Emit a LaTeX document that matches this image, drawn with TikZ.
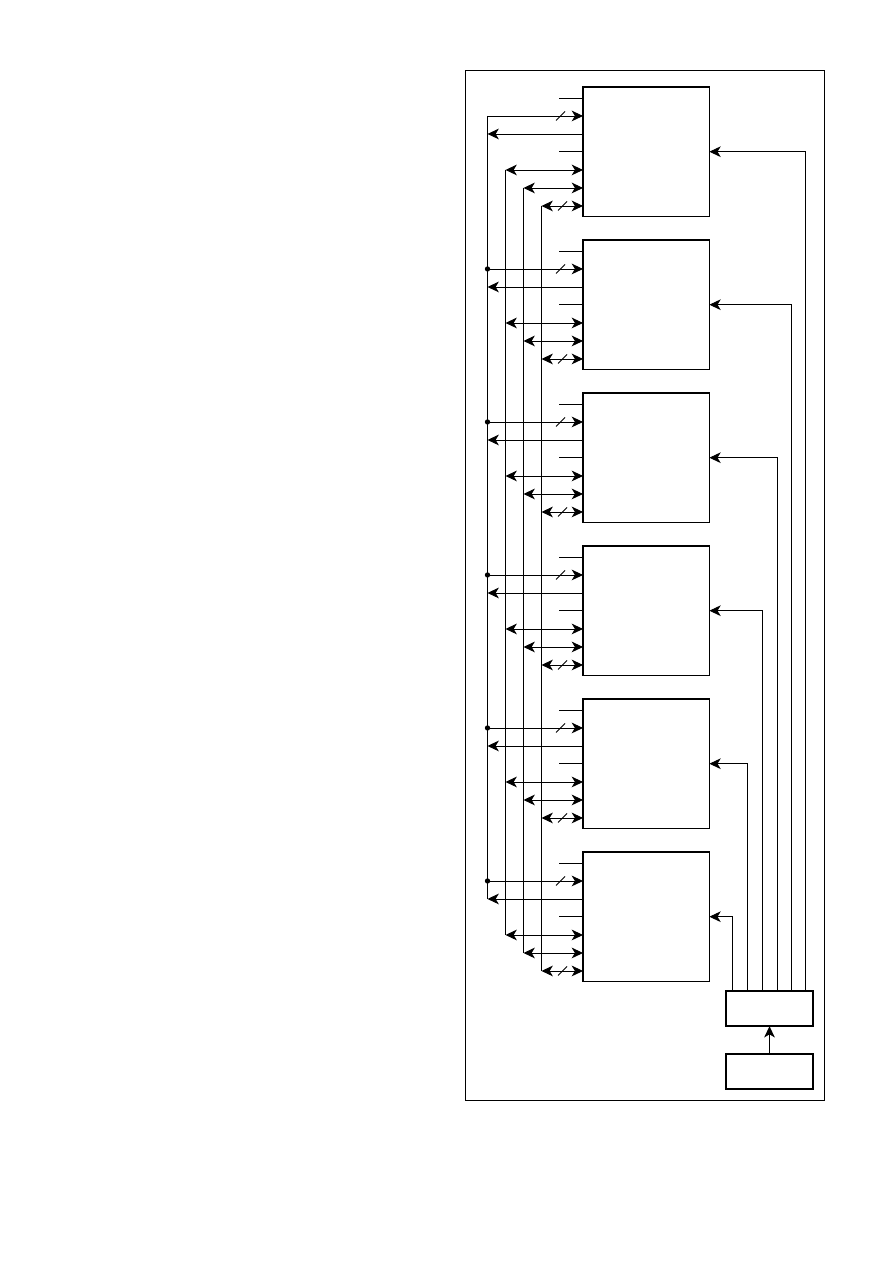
\documentclass[tikz,border=0pt]{standalone}
\usetikzlibrary{calc}
\usetikzlibrary{arrows.meta}
\tikzset{
  blockbox/.style={draw,line width=1.1pt,inner sep=0pt,outer sep=0pt,minimum width=94.75pt,minimum height=97.1pt},
  ctrlbox/.style={draw,line width=1.1pt,inner sep=0pt,outer sep=0pt,minimum width=65.5pt,minimum height=26.5pt},
  wire/.style={line width=0.7pt},
  busdot/.style={circle,fill,inner sep=0pt,minimum size=4pt}
}
\begin{document}
\begin{tikzpicture}[>={Stealth[length=8.5pt,width=8pt,inset=2.4pt]},x=0.75pt,y=-0.75pt]
    \useasboundingbox (0,0) rectangle (892,1263);
    \draw[wire] (465.5,70.5) rectangle (824.5,1100.5);
    \coordinate (busa) at (487.5,0);
    \coordinate (busb) at (505.5,0);
    \coordinate (busc) at (523.5,0);
    \coordinate (busd) at (541.5,0);
    \coordinate (stub) at (559,0);
    % the six blocks and their pins
    \foreach \i/\y in {1/151.7,2/304.7,3/457.7,4/610.7,5/763.7,6/916.7}{
        \node[blockbox] (block\i) at (646.2,\y) {};
        \foreach \p/\d in {a/11.5,b/29,c/47,d/64.5,e/83,f/101,g/119}
            \coordinate (p\p\i) at ($(block\i.north west)+(0,\d)$);
        \draw[wire] (stub |- pa\i) -- (pa\i);
        \draw[wire] (stub |- pd\i) -- (pd\i);
        \draw[wire,->] (busa |- pb\i) -- (pb\i);
        \draw[wire,->] (pc\i) -- (busa |- pc\i);
        \draw[wire,<->] (busb |- pe\i) -- (pe\i);
        \draw[wire,<->] (busc |- pf\i) -- (pf\i);
        \draw[wire,<->] (busd |- pg\i) -- (pg\i);
        % slashes
        \draw[wire] ($(stub |- pb\i)+(-3,4.5)$) -- ++(9,-9);
        \draw[wire] ($(stub |- pg\i)+(-1,4.5)$) -- ++(9,-9);
    }
    % left buses
    \draw[wire] (busa |- pb1) -- (busa |- pc6);
    \draw[wire] (busb |- pe1) -- (busb |- pe6);
    \draw[wire] (busc |- pf1) -- (busc |- pf6);
    \draw[wire] (busd |- pg1) -- (busd |- pg6);
    \foreach \i in {2,...,6}
        \node[busdot] (dot\i) at (busa |- pb\i) {};
    % control boxes
    \node[ctrlbox] (ctrl) at (769.5,1008.5) {};
    \node[ctrlbox] (source) at (769.5,1071.5) {};
    \draw[wire,->] (source.north) -- (ctrl.south);
    \foreach \i/\x in {1/805.8,2/791.5,3/777.5,4/762.6,5/747.6,6/732.8}{
        \coordinate (tap\i) at (\x,991);
        \draw[wire,->] (tap\i) |- (block\i.east);
    }
\end{tikzpicture}
\end{document}
